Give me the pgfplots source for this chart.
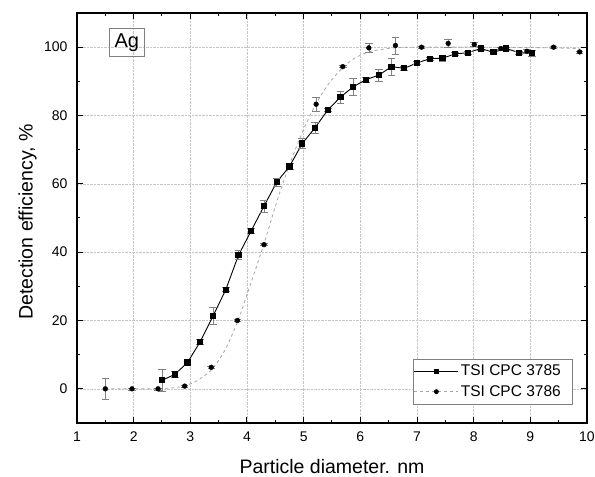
\documentclass[border=0pt]{standalone}
\usepackage{pgfplots}
\pgfplotsset{compat=1.18}
\usepackage{pgfplotstable}
\usepackage{fontspec}
\setmainfont{Liberation Sans}

\pgfplotstableread{
x y e
2.500 2.5 3.2
2.725 4.2 0.8
2.950 7.7 0.5
3.175 13.8 0.8
3.400 21.3 2.5
3.625 29.0 0.6
3.850 39.1 1.3
4.075 46.3 0.8
4.300 53.5 1.8
4.525 60.5 1.2
4.750 65.1 0.8
4.975 71.8 1.5
5.200 76.4 1.5
5.425 81.6 0.5
5.650 85.4 1.8
5.875 88.4 2.5
6.100 90.5 0.8
6.325 91.8 1.8
6.550 94.3 2.5
6.775 93.8 0.5
7.000 95.4 0.5
7.225 96.6 0.5
7.450 96.8 0.8
7.675 98.0 0.5
7.900 98.4 0.5
8.125 99.6 0.5
8.350 98.5 0.5
8.575 99.6 0.5
8.800 98.4 0.5
9.025 98.2 1.0
}\tsiA

\pgfplotstableread{
x y e
1.50 0.0 3.0
1.97 0.0 0.3
2.43 0.0 0.3
2.90 0.8 0.3
3.37 6.3 0.3
3.83 20.0 0.3
4.30 42.2 0.3
4.76 65.1 0.8
5.22 83.3 2.0
5.69 94.3 0.3
6.15 99.8 1.2
6.62 100.5 2.5
7.08 100.0 0.3
7.55 101.1 1.2
8.01 100.8 0.5
8.48 99.6 0.3
8.94 98.8 0.5
9.41 100.0 0.3
9.87 98.6 0.3
}\tsiB

\pgfplotstableread{
x y
1.50 0.0
2.00 0.0
2.40 0.0
2.70 0.3
2.90 0.9
3.10 2.2
3.37 5.5
3.60 11.0
3.83 19.5
4.05 30.0
4.30 42.5
4.55 56.0
4.76 66.0
5.00 76.0
5.22 83.5
5.45 89.5
5.69 94.0
5.90 96.8
6.15 98.6
6.40 99.4
6.62 99.8
7.00 100.0
8.00 100.0
9.00 99.9
9.87 99.6
}\fitB

\begin{document}
\begin{tikzpicture}
\useasboundingbox (-77pt,-54pt) rectangle (518pt,423pt);
\begin{axis}[
  at={(0,0)}, anchor=south west,
  scale only axis, width=510pt, height=410pt,
  xmin=1, xmax=10, ymin=-10, ymax=110,
  xtick={1,2,...,10}, ytick={0,20,...,100},
  minor x tick num=1, minor y tick num=1,
  tick align=inside,
  major tick length=6pt, minor tick length=3.5pt,
  tick style={black, line width=1pt},
  axis line style={line width=1.3pt},
  grid=major,
  major grid style={densely dotted, gray!45, line width=0.6pt},
  /pgf/number format/assume math mode=true,
  ticklabel style={font=\fontsize{14}{14}\selectfont},
  xticklabel style={yshift=-5pt},
  yticklabel style={xshift=-6pt},
  xlabel={Particle diameter. nm},
  ylabel={Detection efficiency, \%},
  label style={font=\fontsize{19.5}{20}\selectfont},
  xlabel style={at={(axis description cs:0.5,0)}, anchor=base, yshift=-50pt},
  ylabel style={at={(axis description cs:0,0.5)}, anchor=north, yshift=62pt, xshift=-4pt},
  legend style={at={(1,0)}, anchor=south east, xshift=-15pt, yshift=19pt,
    draw=gray, font=\fontsize{15.5}{16}\selectfont, row sep=4pt,
    inner xsep=1pt, inner ysep=4pt},
  legend cell align=left,
  legend image code/.code={\draw[mark repeat=2, mark phase=2, #1] plot coordinates {(0pt,0pt) (22pt,0pt) (44pt,0pt)};},
]
% fitted dashed curve for 3786
\addplot[forget plot, smooth, dashed, gray!70, line width=0.8pt] table[x=x, y=y] {\fitB};
% 3785 data
\addplot[forget plot, black, line width=0.9pt, mark=square*, mark size=2.6pt,
  error bars/.cd, y dir=both, y explicit,
  error bar style={gray, line width=0.6pt},
  error mark options={rotate=90, mark size=3.8pt, gray, line width=0.6pt}]
  table[x=x, y=y, y error=e] {\tsiA};
% 3786 data
\addplot[forget plot, only marks, black, mark=*, mark size=2.4pt,
  error bars/.cd, y dir=both, y explicit,
  error bar style={gray, line width=0.6pt},
  error mark options={rotate=90, mark size=3.8pt, gray, line width=0.6pt}]
  table[x=x, y=y, y error=e] {\tsiB};
\addlegendimage{black, line width=0.9pt, mark=square*, mark size=2.2pt}
\addlegendentry{TSI CPC 3785\hspace*{8pt}}
\addlegendimage{gray!70, dashed, line width=0.8pt, mark=*, mark size=2pt, mark options={solid, black}}
\addlegendentry{TSI CPC 3786\hspace*{8pt}}
\node[draw=gray, line width=0.6pt, font=\fontsize{20}{20}\selectfont, inner xsep=5pt, inner ysep=5pt] at (axis cs:1.88,101.3) {Ag};
\end{axis}
\end{tikzpicture}
\end{document}
